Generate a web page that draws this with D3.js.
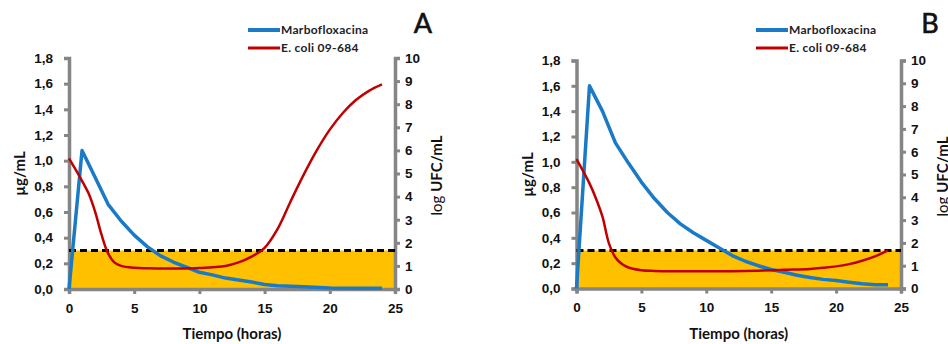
<!DOCTYPE html>
<html>
<head>
<meta charset="utf-8">
<script src="https://cdn.jsdelivr.net/npm/d3@7"></script>
<style>
  body { margin: 0; background: #fff; }
  svg { display: block; font-family: Lato, "Open Sans", sans-serif; }
  .tick-label { font-weight: bold; font-size: 13.5px; fill: #111; }
  .axis-title { font-weight: bold; font-size: 15px; fill: #111; }
  .legend-text { font-weight: bold; font-size: 12px; fill: #222; letter-spacing: 0.3px; }
</style>
</head>
<body>
<svg id="chart" width="948" height="344"></svg>
<script>
// time in hours
const timeA = [0, 1, 2, 3, 4, 5, 6, 7, 8, 9, 10, 11, 12, 13, 14, 15, 16, 18, 20, 22, 24]
const marboA = [0, 1.08, 0.87, 0.66, 0.53, 0.42, 0.33, 0.26, 0.21, 0.17, 0.13, 0.11, 0.085, 0.07, 0.055, 0.035, 0.025, 0.018, 0.008, 0.006, 0.005]
const ecoliTimeA = [0, 1, 1.5, 2, 2.5, 3, 3.5, 4, 5, 6, 8, 10, 12, 13, 14, 15, 16, 17, 18, 19, 20, 21, 22, 23, 24]
const ecoliA = [5.65, 4.68, 4.14, 3.35, 2.34, 1.54, 1.14, 1.0, 0.92, 0.9, 0.89, 0.91, 1.0, 1.15, 1.4, 1.78, 2.6, 3.8, 4.95, 6.0, 6.9, 7.62, 8.18, 8.58, 8.86]

const timeB = [0, 1, 2, 3, 4, 5, 6, 7, 8, 9, 10, 11, 12, 13, 14, 15, 16, 17, 18, 19, 20, 21, 22, 23, 24]
const marboB = [0, 1.6, 1.4, 1.15, 0.99, 0.84, 0.71, 0.6, 0.51, 0.44, 0.38, 0.32, 0.26, 0.215, 0.18, 0.15, 0.128, 0.105, 0.087, 0.072, 0.063, 0.05, 0.037, 0.03, 0.03]
const ecoliTimeB = [0, 1, 1.5, 2, 2.5, 3, 3.5, 4, 5, 6, 8, 10, 12, 14, 16, 18, 19, 20, 21, 22, 23, 24]
const ecoliB = [5.67, 4.61, 3.95, 3.15, 1.98, 1.36, 1.07, 0.92, 0.8, 0.77, 0.76, 0.76, 0.76, 0.78, 0.82, 0.86, 0.91, 0.97, 1.07, 1.22, 1.41, 1.67]

const leftTicks = [0, 0.2, 0.4, 0.6, 0.8, 1.0, 1.2, 1.4, 1.6, 1.8]
const rightTicks = [0, 1, 2, 3, 4, 5, 6, 7, 8, 9, 10]
const xTicks = [0, 5, 10, 15, 20, 25]
const threshold = 0.3
const seriesNames = ['Marbofloxacina', 'E. coli 09-684']

const GREY = '#858585', BLUE = '#1a7ac6', RED = '#c00000', YELLOW = '#ffc000'

let svg = d3.select('#chart')

let drawPanel = (p) => {
    let x = d3.scaleLinear().domain([0, 25]).range([p.left, p.right])
    let yL = d3.scaleLinear().domain([0, 1.8]).range([p.bottom, p.top])
    let yR = d3.scaleLinear().domain([0, 10]).range([p.bottom, p.top])
    let g = svg.append('g')

    // yellow zone under MIC line
    g.append('rect')
        .attr('x', x(0))
        .attr('y', yL(threshold))
        .attr('width', x(25) - x(0))
        .attr('height', yL(0) - yL(threshold))
        .attr('fill', YELLOW)

    // axes
    let axisL = d3.axisLeft(yL).tickValues(leftTicks).tickSize(5).tickFormat(d => d3.format('.1f')(d).replace('.', ','))
    let gl = g.append('g').attr('transform', 'translate(' + x(0) + ',0)').call(axisL)
    let axisR = d3.axisRight(yR).tickValues(rightTicks).tickSize(5)
    let gr = g.append('g').attr('transform', 'translate(' + x(25) + ',0)').call(axisR)
    let axisB = d3.axisBottom(x).tickValues(xTicks).tickSize(5)
    let gb = g.append('g').attr('transform', 'translate(0,' + yL(0) + ')').call(axisB)

    ;[gl, gr, gb].forEach(a => {
        a.select('.domain').attr('stroke', GREY).attr('stroke-width', 3.5)
        a.selectAll('.tick line').attr('stroke', GREY).attr('stroke-width', 3)
        a.selectAll('.tick text').attr('class', 'tick-label').attr('font-family', null).attr('font-size', null)
    })
    gl.selectAll('.tick text').attr('x', -16)
    gr.selectAll('.tick text').attr('x', 10)
    gb.selectAll('.tick text').attr('y', 14)

    // dashed MIC line
    g.append('line')
        .attr('x1', x(0)).attr('x2', x(25))
        .attr('y1', yL(threshold)).attr('y2', yL(threshold))
        .attr('stroke', '#000')
        .attr('stroke-width', 3)
        .attr('stroke-dasharray', '7,4')

    let lineBlue = d3.line().x((d, i) => x(p.time[i])).y(d => yL(d))
    g.append('path')
        .datum(p.marbo)
        .attr('d', lineBlue)
        .attr('fill', 'none')
        .attr('stroke', BLUE)
        .attr('stroke-width', 3.5)
        .attr('stroke-linejoin', 'round')

    let lineRed = d3.line().x((d, i) => x(p.ecoliTime[i])).y(d => yR(d)).curve(d3.curveCatmullRom)
    g.append('path')
        .datum(p.ecoli)
        .attr('d', lineRed)
        .attr('fill', 'none')
        .attr('stroke', RED)
        .attr('stroke-width', 2.5)

    // titles
    g.append('text')
        .attr('class', 'axis-title')
        .attr('x', (x(0) + x(25)) / 2)
        .attr('y', 339)
        .attr('text-anchor', 'middle')
        .text('Tiempo (horas)')
    g.append('text')
        .attr('class', 'axis-title')
        .attr('transform', 'translate(' + (x(0) - 44) + ',' + (p.top + p.bottom) / 2 + ') rotate(-90)')
        .attr('text-anchor', 'middle')
        .text('µg/mL')
    let rt = g.append('text')
        .attr('class', 'axis-title')
        .attr('transform', 'translate(' + (x(25) + 47) + ',' + ((p.top + p.bottom) / 2 + 2) + ') rotate(-90)')
        .attr('text-anchor', 'middle')
    rt.append('tspan').attr('font-weight', 'normal').text('log ')
    rt.append('tspan').text('UFC/mL')

    // panel letter
    g.append('text')
        .attr('x', p.letterX)
        .attr('y', 33)
        .attr('text-anchor', 'middle')
        .attr('font-size', 27)
        .attr('font-weight', 'normal')
        .attr('stroke', '#111')
        .attr('stroke-width', 0.6)
        .attr('fill', '#111')
        .text(p.letter)

    // legend
    let colors = [BLUE, RED], widths = [4, 3]
    seriesNames.forEach((name, i) => {
        let ly = 30 + i * 18
        g.append('line')
            .attr('x1', p.legendX).attr('x2', p.legendX + 32)
            .attr('y1', ly).attr('y2', ly)
            .attr('stroke', colors[i])
            .attr('stroke-width', widths[i])
        g.append('text')
            .attr('class', 'legend-text')
            .attr('x', p.legendX + 33)
            .attr('y', ly + 4)
            .text(name)
    })
}

drawPanel({left: 69, right: 395, top: 58, bottom: 289, time: timeA, marbo: marboA, ecoliTime: ecoliTimeA, ecoli: ecoliA, letter: 'A', letterX: 423, legendX: 248})
drawPanel({left: 576.5, right: 901, top: 60.5, bottom: 288.5, time: timeB, marbo: marboB, ecoliTime: ecoliTimeB, ecoli: ecoliB, letter: 'B', letterX: 930, legendX: 756})
</script>
</body>
</html>
